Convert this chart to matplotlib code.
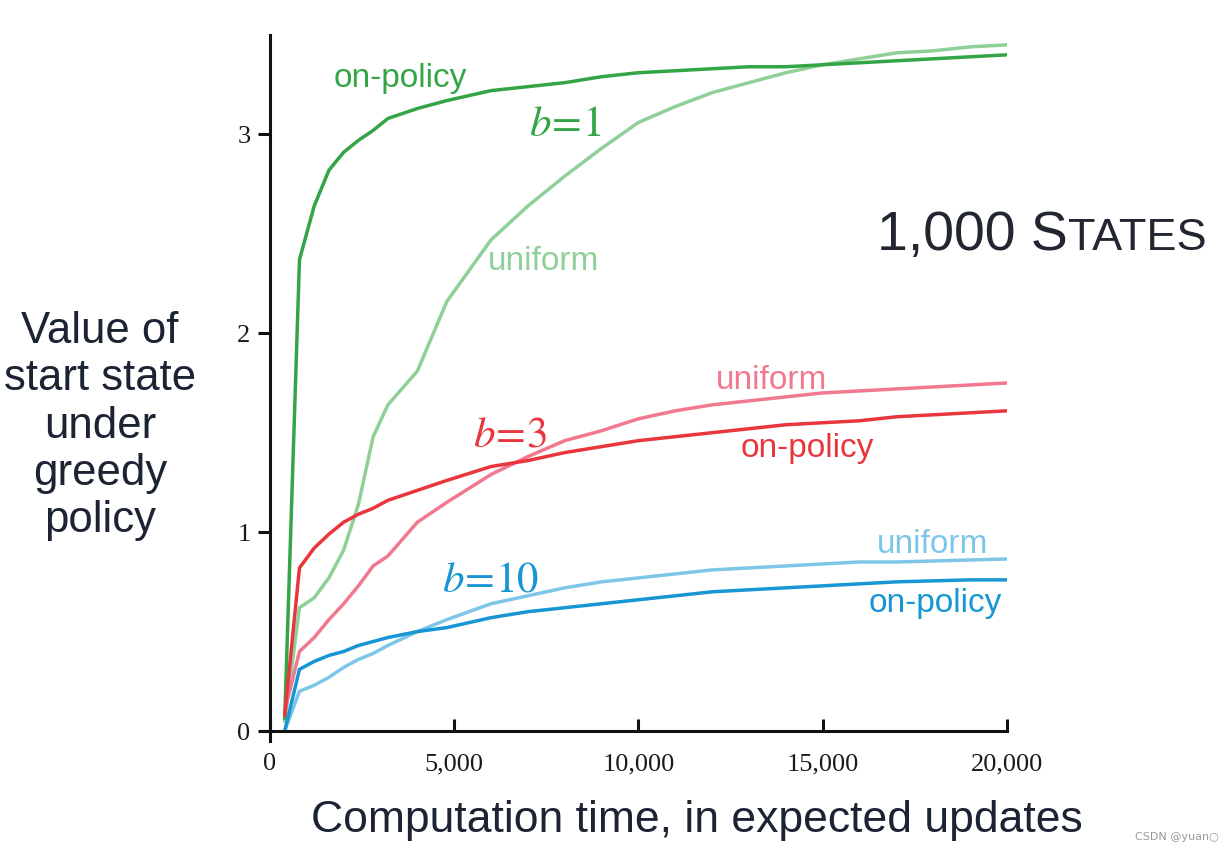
import numpy as np
import matplotlib
matplotlib.use('Agg')
import matplotlib.pyplot as plt
import matplotlib.ticker as mticker

# -----------------------------------------------------------------------------
# data
# -----------------------------------------------------------------------------
updates = [400, 800, 1200, 1600, 2000, 2400, 2800, 3200, 4000, 4800, 6000,
           7000, 8000, 9000, 10000, 11000, 12000, 13000, 14000, 15000, 16000,
           17000, 18000, 19000, 20000]

b1_on = [0.065, 2.37, 2.64, 2.82, 2.91, 2.97, 3.02, 3.08, 3.13, 3.17, 3.22,
         3.24, 3.26, 3.29, 3.31, 3.32, 3.33, 3.34, 3.34, 3.35, 3.36, 3.37,
         3.38, 3.39, 3.40]
b1_uni = [0.05, 0.62, 0.67, 0.77, 0.91, 1.14, 1.48, 1.64, 1.81, 2.16, 2.47,
          2.64, 2.79, 2.93, 3.06, 3.14, 3.21, 3.26, 3.31, 3.35, 3.38, 3.41,
          3.42, 3.44, 3.45]
b3_on = [0.08, 0.82, 0.92, 0.99, 1.05, 1.09, 1.12, 1.16, 1.21, 1.26, 1.33,
         1.36, 1.40, 1.43, 1.46, 1.48, 1.50, 1.52, 1.54, 1.55, 1.56, 1.58,
         1.59, 1.60, 1.61]
b3_uni = [0.10, 0.40, 0.47, 0.56, 0.64, 0.73, 0.83, 0.88, 1.05, 1.15, 1.29,
          1.38, 1.46, 1.51, 1.57, 1.61, 1.64, 1.66, 1.68, 1.70, 1.71, 1.72,
          1.73, 1.74, 1.75]
b10_on = [0.0, 0.31, 0.35, 0.38, 0.40, 0.43, 0.45, 0.47, 0.50, 0.52, 0.57,
          0.60, 0.62, 0.64, 0.66, 0.68, 0.70, 0.71, 0.72, 0.73, 0.74, 0.75,
          0.755, 0.76, 0.76]
b10_uni = [0.0, 0.20, 0.23, 0.27, 0.32, 0.36, 0.39, 0.43, 0.50, 0.56, 0.64,
           0.68, 0.72, 0.75, 0.77, 0.79, 0.81, 0.82, 0.83, 0.84, 0.85, 0.85,
           0.855, 0.86, 0.865]

x_ticks = [0, 5000, 10000, 15000, 20000]
x_ticklabels = ['0', '5,000', '10,000', '15,000', '20,000']
y_ticks = [0, 1, 2, 3]

# colours
green_dark = '#34a546'
green_light = '#8fcf98'
red_dark = '#e8363c'
red_light = '#f2788f'
blue_dark = '#1796d3'
blue_light = '#7ec6e8'
ink = '#1c2434'

plt.rcParams['mathtext.fontset'] = 'stix'

fig = plt.figure(figsize=(12.25, 8.52), dpi=100)
ax = fig.add_axes([0.2204, 0.142, 0.6016, 0.817])

lw = 2.5
ax.plot(updates, b1_uni, color=green_light, lw=lw)
ax.plot(updates, b1_on, color=green_dark, lw=lw)
ax.plot(updates, b3_uni, color=red_light, lw=lw)
ax.plot(updates, b3_on, color=red_dark, lw=lw)
ax.plot(updates, b10_uni, color=blue_light, lw=lw)
ax.plot(updates, b10_on, color=blue_dark, lw=lw)

ax.set_xlim(0, 20000)
ax.set_ylim(0, 3.5)

# axes / spines
for side in ['top', 'right']:
    ax.spines[side].set_visible(False)
for side in ['left', 'bottom']:
    ax.spines[side].set_linewidth(2.2)
    ax.spines[side].set_color('#111111')
ax.spines['left'].set_bounds(-0.05, 3.5)
ax.spines['bottom'].set_bounds(-200, 20000)

ax.xaxis.set_major_locator(mticker.FixedLocator(x_ticks))
ax.set_xticklabels(x_ticklabels)
ax.yaxis.set_major_locator(mticker.FixedLocator(y_ticks))
ax.tick_params(axis='x', direction='in', length=9, width=2.2, color='#111111',
               pad=16)
ax.tick_params(axis='y', direction='out', length=9, width=2.2, color='#111111',
               pad=5)
for lab in ax.get_xticklabels() + ax.get_yticklabels():
    lab.set_fontfamily('Liberation Serif')
    lab.set_fontsize(19)
    lab.set_color('#1a1a1a')

# axis titles
fig.text(0.0816, 0.500, 'Value of\nstart state\nunder\ngreedy\npolicy',
         ha='center', va='center', fontsize=31.5, family='Liberation Sans',
         color=ink, linespacing=1.2)
fig.text(0.569, 0.0235, 'Computation time, in expected updates',
         ha='center', va='baseline', fontsize=32, family='Liberation Sans',
         color=ink)

# panel title with small caps
t1 = fig.text(0.716, 0.7066, '1,000 S', ha='left', va='baseline',
              fontsize=40, family='Liberation Sans', color='#222630')
ax.annotate('TATES', xy=(1, 0.7066), xycoords=(t1, 'figure fraction'),
            ha='left', va='baseline', fontsize=32.5, family='Liberation Sans',
            color='#222630', annotation_clip=False)

# curve labels
lab_kw = dict(family='Liberation Sans', fontsize=24, va='baseline')
ax.text(3530, 3.24, 'on-policy', color=green_dark, ha='center', **lab_kw)
ax.text(7435, 2.32, 'uniform', color=green_light, ha='center', **lab_kw)
ax.text(13600, 1.72, 'uniform', color=red_light, ha='center', **lab_kw)
ax.text(14570, 1.38, 'on-policy', color=red_dark, ha='center', **lab_kw)
ax.text(17990, 0.895, 'uniform', color=blue_light, ha='center', **lab_kw)
ax.text(18050, 0.60, 'on-policy', color=blue_dark, ha='center', **lab_kw)

blab_kw = dict(fontsize=31, ha='center', va='baseline')
ax.text(8005, 2.99, r'$b\!=\!1$', color=green_dark, **blab_kw)
ax.text(6510, 1.43, r'$b\!=\!3$', color=red_dark, **blab_kw)
ax.text(5970, 0.70, r'$b\!=\!10$', color=blue_dark, **blab_kw)

fig.text(0.995, 0.012, 'CSDN @yuan\u25cb', ha='right', va='bottom',
         fontsize=8, color='#999999', family='DejaVu Sans')

fig.savefig('out.png', dpi=100)
